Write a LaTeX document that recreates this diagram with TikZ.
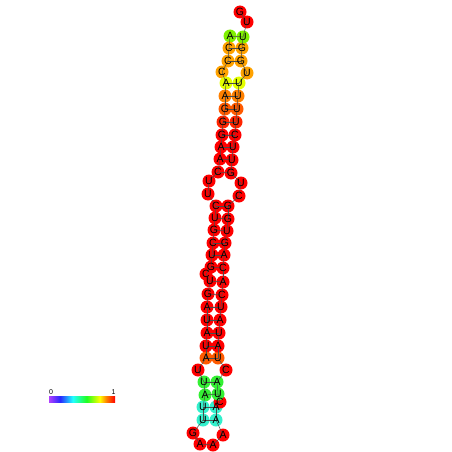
\documentclass[tikz,border=0pt]{standalone}
\usepackage{fontspec}
\setmainfont{Liberation Sans}
\definecolor{cR}{HTML}{FF0000}
\definecolor{cR2}{HTML}{FF2400}
\definecolor{cO3}{HTML}{FF5A00}
\definecolor{cO2}{HTML}{FF8000}
\definecolor{cO1}{HTML}{FFA200}
\definecolor{cY}{HTML}{E4FF00}
\definecolor{cG1}{HTML}{80F000}
\definecolor{cG2}{HTML}{33F033}
\definecolor{cC}{HTML}{33F0CC}
\definecolor{bV}{HTML}{B040FF}
\definecolor{bB}{HTML}{2828FF}
\definecolor{bC}{HTML}{20FFFF}
\definecolor{bG}{HTML}{20FF20}
\definecolor{bY}{HTML}{FFFF00}
\definecolor{bO}{HTML}{FF8000}
\pgfdeclarehorizontalshading{rnabar}{100bp}{color(0bp)=(bV); color(25bp)=(bV); color(33.5bp)=(bB); color(43bp)=(bC); color(53.5bp)=(bG); color(63.5bp)=(bY); color(68.5bp)=(bO); color(75bp)=(cR); color(100bp)=(cR)}
\begin{document}
\begin{tikzpicture}[x=1pt,y=-1pt,
  nt/.style={circle, inner sep=0pt, minimum size=13pt},
  lt/.style={inner sep=0pt, font=\fontsize{10.5}{10.5}\selectfont},
  bb/.style={draw=black!70, line width=0.5pt},
  bartxt/.style={inner sep=0pt, font=\fontsize{7}{7}\selectfont}]
\useasboundingbox (0,0) rectangle (452,452);
\foreach \i/\x/\y/\b/\c in {
 1/230/36/A/cG1, 2/229/48/C/cO1, 3/228/61/C/cO1, 4/222/72/C/cO1, 5/226/83/A/cY,
 6/225/96/A/cO2, 7/225/109/G/cO3, 8/223/122/G/cR2, 9/222/135/G/cR, 10/221/147/A/cR,
 11/220/159/A/cR, 12/218/172/C/cR, 13/209/181/U/cR, 14/208/194/U/cR, 15/216/206/C/cR,
 16/215/218/U/cR, 17/214/230/G/cR, 18/213/243/C/cR, 19/212/255/U/cR, 20/211/267/G/cR,
 21/206/274/C/cR, 22/210/281/U/cR, 23/208/294/G/cR, 24/207/307/A/cR, 25/207/320/U/cR,
 26/207/333/A/cR, 27/206/346/U/cR, 28/206/358/A/cO3, 29/198/370/U/cR, 30/204/382/U/cG2,
 31/205/395/A/cG2, 32/203/407/U/cC, 33/203/420/U/cC, 34/193/433/G/cR, 35/200/444/A/cR,
 36/213/445/A/cR, 37/223/435/A/cR, 38/216/420/A/cC, 39/216/407/A/cC, 40/220/402/C/cR,
 41/218/394/U/cG2, 42/217/382/A/cG2, 43/226/370/C/cR, 44/218/358/U/cO3, 45/218/346/A/cR,
 46/219/333/U/cR, 47/220/320/A/cR, 48/221/307/U/cR, 49/222/295/C/cR, 50/223/282/A/cR,
 51/223/268/C/cR, 52/224/255/A/cR, 53/225/243/G/cR, 54/227/231/U/cR, 55/228/219/G/cR,
 56/228/206/G/cR, 57/239/196/C/cR, 58/241/183/U/cR, 59/231/173/G/cR, 60/232/160/U/cR,
 61/233/147/U/cR, 62/235/135/C/cR, 63/236/122/U/cR2, 64/237/109/U/cO3, 65/238/96/U/cO2,
 66/239/83/U/cY, 67/247/73/U/cO1, 68/241/61/G/cO1, 69/242/48/G/cO1, 70/243/37/U/cG1,
 71/247/22/U/cR, 72/240/12/G/cR}
 {\node[nt, fill=\c] (n\i) at (\x,\y) {};}
% backbone
\foreach \i [evaluate=\i as \j using {int(\i+1)}] in {1,...,71}
 {\draw[bb] (n\i.center) -- (n\j.center);}
% base pairs
\foreach \a/\b in {1/70,2/69,3/68,5/66,6/65,7/64,8/63,9/62,10/61,11/60,12/59,
 15/56,16/55,17/54,18/53,19/52,20/51,22/50,23/49,24/48,25/47,26/46,27/45,28/44,
 30/42,31/41,32/39,33/38}
 {\draw[bb] (n\a.center) -- (n\b.center);}
% letters
\foreach \i/\b in {1/A,2/C,3/C,4/C,5/A,6/A,7/G,8/G,9/G,10/A,11/A,12/C,13/U,14/U,15/C,
 16/U,17/G,18/C,19/U,20/G,21/C,22/U,23/G,24/A,25/U,26/A,27/U,28/A,29/U,30/U,31/A,32/U,
 33/U,34/G,35/A,36/A,37/A,38/A,39/A,40/C,41/U,42/A,43/C,44/U,45/A,46/U,47/A,48/U,49/C,
 50/A,51/C,52/A,53/G,54/U,55/G,56/G,57/C,58/U,59/G,60/U,61/U,62/C,63/U,64/U,65/U,66/U,
 67/U,68/G,69/G,70/U,71/U,72/G}
 {\node[lt] (t\i) at (n\i) {\b};}
% colour bar
\shade[shading=rnabar] (49,396.5) rectangle (115,402.5);
\node[bartxt] (lab0) at (51,392.5) {0};
\node[bartxt] (lab1) at (113.5,392.5) {1};
\end{tikzpicture}
\end{document}
